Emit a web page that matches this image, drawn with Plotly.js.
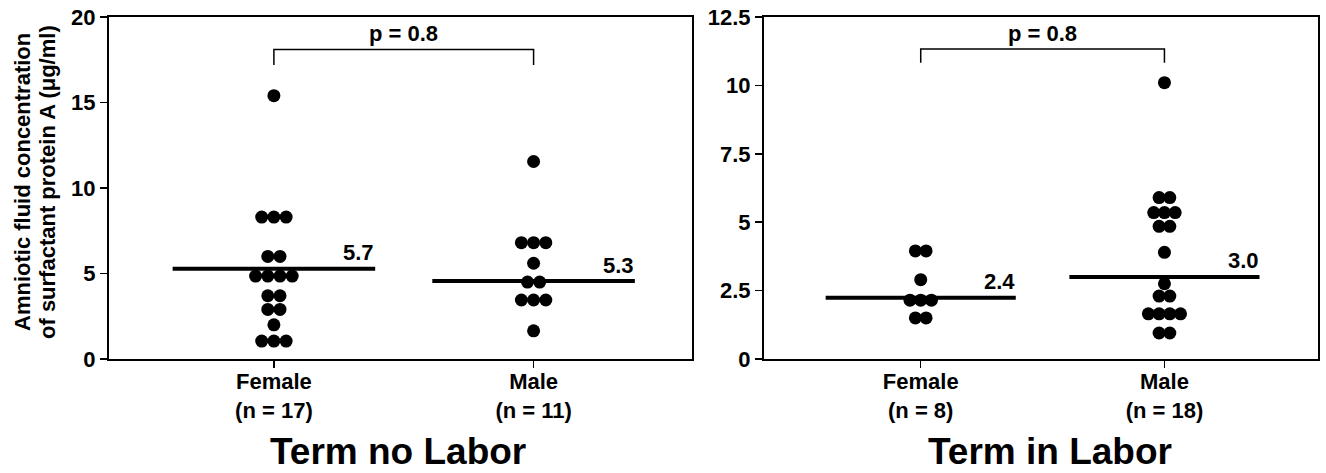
<!DOCTYPE html>
<html><head><meta charset="utf-8">
<script src="https://cdn.plot.ly/plotly-3.0.1.min.js"></script>
<style>html,body{margin:0;padding:0;background:#fff}#chart{width:1326px;height:473px}</style>
</head><body><div id="chart"></div>
<script>
const categories = ['Female', 'Male'];
const tickLabelsNoLabor = ['Female<br>(n = 17)', 'Male<br>(n = 11)'];
const tickLabelsInLabor = ['Female<br>(n = 8)', 'Male<br>(n = 18)'];
const femaleNoLabor = [15.4, 8.3, 8.3, 8.3, 6.0, 6.0, 4.85, 4.85, 4.85, 4.85, 3.7, 3.7, 2.9, 2.9, 2.0, 1.05, 1.05, 1.05];
const maleNoLabor = [11.55, 6.8, 6.8, 6.8, 5.6, 4.5, 4.5, 3.45, 3.45, 3.45, 1.65];
const femaleInLabor = [3.95, 3.95, 2.9, 2.15, 2.15, 2.15, 1.5, 1.5];
const maleInLabor = [10.1, 5.9, 5.9, 5.35, 5.35, 5.35, 4.85, 4.85, 3.9, 2.75, 2.3, 2.3, 1.65, 1.65, 1.65, 1.65, 0.95, 0.95];
const lineNoLabor = [5.28, 4.56];
const lineInLabor = [2.24, 3.0];
const labelNoLabor = ['5.7', '5.3'];
const labelInLabor = ['2.4', '3.0'];
const pNoLabor = 'p = 0.8';
const pInLabor = 'p = 0.8';
const bracketNoLabor = [17.2, 18.1];
const bracketInLabor = [10.83, 11.33];
const panelTitles = ['Term no Labor', 'Term in Labor'];
const yTitle = ['Amniotic fluid concentration', 'of surfactant protein A (μg/ml)'];
const yTicksNoLabor = [0, 5, 10, 15, 20];
const yTicksInLabor = [0, 2.5, 5, 7.5, 10, 12.5];

const FONT = 'Liberation Sans, Arial, sans-serif';
const W = 1326, H = 473, T = 17, B = 114;
const pos = [1, 2];
const halfLen = 0.39;

function swarm(values, center, step) {
  const counts = {}, seen = {};
  values.forEach(v => counts[v] = (counts[v] || 0) + 1);
  return values.map(v => {
    const k = counts[v];
    const i = seen[v] = (seen[v] === undefined ? 0 : seen[v] + 1);
    return center + (i - (k - 1) / 2) * step;
  });
}

const traces = [];
const annotations = [];
const lblFont = {family: FONT, size: 22, weight: 'bold', color: '#000'};
function panel(groups, lines, labels, bracket, ptext, xa, ya, step) {
  groups.forEach((vals, gi) => {
    traces.push({type: 'scatter', mode: 'markers', x: swarm(vals, pos[gi], step), y: vals,
      xaxis: xa, yaxis: ya, marker: {size: 13, color: '#000'}, hoverinfo: 'y', showlegend: false, cliponaxis: false});
    traces.push({type: 'scatter', mode: 'lines', x: [pos[gi] - halfLen, pos[gi] + halfLen], y: [lines[gi], lines[gi]],
      xaxis: xa, yaxis: ya, line: {color: '#000', width: 4}, hoverinfo: 'skip', showlegend: false});
    annotations.push({xref: xa, yref: ya, x: pos[gi] + halfLen, y: lines[gi], text: labels[gi], showarrow: false,
      xanchor: 'right', yanchor: 'middle', yshift: 16, xshift: 1, font: lblFont});
  });
  traces.push({type: 'scatter', mode: 'lines', x: [pos[0], pos[0], pos[1], pos[1]], y: [bracket[0], bracket[1], bracket[1], bracket[0]],
    xaxis: xa, yaxis: ya, line: {color: '#000', width: 1.5}, hoverinfo: 'skip', showlegend: false});
  annotations.push({xref: xa, yref: ya, x: (pos[0] + pos[1]) / 2, y: bracket[1], text: ptext, showarrow: false,
    xanchor: 'center', yanchor: 'middle', yshift: 16, font: lblFont});
}
panel([femaleNoLabor, maleNoLabor], lineNoLabor, labelNoLabor, bracketNoLabor, pNoLabor, 'x', 'y', 0.047);
panel([femaleInLabor, maleInLabor], lineInLabor, labelInLabor, bracketInLabor, pInLabor, 'x2', 'y2', 0.044);

const plotH = H - T - B;
const py = px => (H - B - px) / plotH;
const titleFont = {family: FONT, size: 37, weight: 'bold', color: '#000'};
annotations.push({xref: 'paper', yref: 'paper', x: 398 / W, y: py(451), text: panelTitles[0], showarrow: false,
  xanchor: 'center', yanchor: 'middle', font: titleFont});
annotations.push({xref: 'paper', yref: 'paper', x: 1050 / W, y: py(451), text: panelTitles[1], showarrow: false,
  xanchor: 'center', yanchor: 'middle', font: titleFont});
const yTitleFont = {family: FONT, size: 22, weight: 'bold', color: '#000'};
annotations.push({xref: 'paper', yref: 'paper', x: 23 / W, y: py(182), text: yTitle[0], showarrow: false, textangle: -90,
  xanchor: 'center', yanchor: 'middle', font: yTitleFont});
annotations.push({xref: 'paper', yref: 'paper', x: 48 / W, y: py(182), text: yTitle[1], showarrow: false, textangle: -90,
  xanchor: 'center', yanchor: 'middle', font: yTitleFont});

const tickFont = {family: FONT, size: 22, weight: 'bold', color: '#000'};
const xBase = {tickvals: pos, ticks: 'outside', ticklen: 7, tickwidth: 1.5, tickcolor: '#000', showline: true, mirror: true,
  linewidth: 2, linecolor: '#000', showgrid: false, zeroline: false, tickfont: tickFont, fixedrange: true, ticklabelstandoff: -5};
const yBase = {ticks: 'outside', ticklen: 7, tickwidth: 1.5, tickcolor: '#000', showline: true, mirror: true,
  linewidth: 2, linecolor: '#000', showgrid: false, zeroline: false, tickfont: tickFont, fixedrange: true};

const layout = {
  width: W, height: H, margin: {l: 0, r: 0, t: T, b: B}, paper_bgcolor: '#fff', plot_bgcolor: '#fff',
  showlegend: false, font: {family: FONT, color: '#000'},
  xaxis: Object.assign({}, xBase, {domain: [109 / W, 692 / W], range: [0.365, 2.61], ticktext: tickLabelsNoLabor, anchor: 'y'}),
  yaxis: Object.assign({}, yBase, {domain: [0, 1], range: [0, 20], tickvals: yTicksNoLabor, ticktext: yTicksNoLabor.map(String), anchor: 'x'}),
  xaxis2: Object.assign({}, xBase, {domain: [764 / W, 1318 / W], range: [0.357, 2.63], ticktext: tickLabelsInLabor, anchor: 'y2'}),
  yaxis2: Object.assign({}, yBase, {domain: [0, 1], range: [0, 12.5], tickvals: yTicksInLabor, ticktext: yTicksInLabor.map(String), anchor: 'x2'}),
  annotations: annotations
};
Plotly.newPlot('chart', traces, layout, {displayModeBar: false, staticPlot: true});
</script>
</body></html>
